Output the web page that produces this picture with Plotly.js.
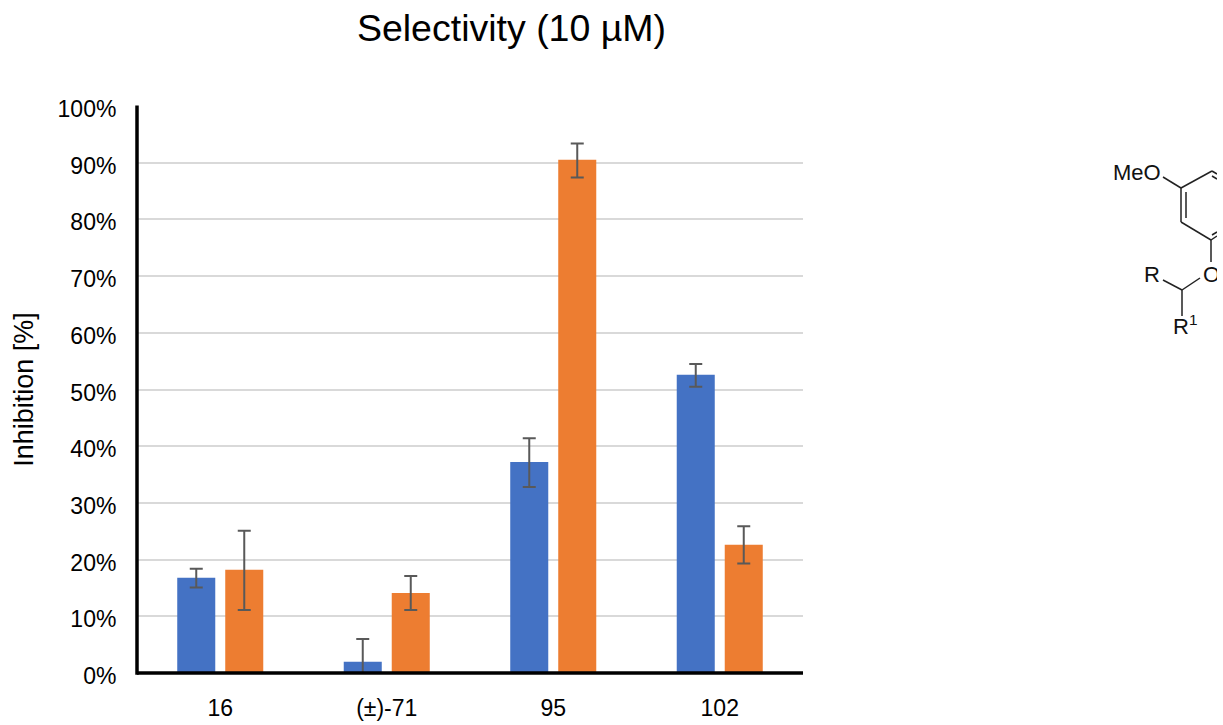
<!DOCTYPE html>
<html><head><meta charset="utf-8">
<script src="https://cdn.plot.ly/plotly-3.0.1.min.js"></script>
<style>html,body{margin:0;padding:0;background:#fff;overflow:hidden}
#edge{position:absolute;left:1217px;top:0;width:6px;height:725px;background:#fff}</style>
</head><body><div id="chart" style="width:1223px;height:725px"></div><div id="edge"></div>
<script>
const categories = ['16', '(±)-71', '95', '102'];
const blueValues = [16.8, 2.0, 37.2, 52.6];
const blueUp = [1.6, 4.0, 4.2, 1.9];
const blueDown = [1.7, 2.0, 4.4, 2.1];
const orangeValues = [18.2, 14.1, 90.5, 22.6];
const orangeUp = [6.9, 3.0, 2.9, 3.3];
const orangeDown = [7.1, 3.0, 3.1, 3.3];
const W = 1223, H = 725;
const L = 137, R = 803, T = 106, B = 673;
const FONT = '"Liberation Sans", Arial, sans-serif';
const px = x => (x - L) / (R - L), py = y => (B - y) / (B - T);

// decorative structure fragment (pixel positions on the page)
const bonds = [
  [1163,177,1181,188],[1181,188,1181,222],[1186,192,1186,218],
  [1181,222,1211,240],[1181,188,1212,171],[1212,171,1217,174],
  [1212,176,1217,179],[1211,240,1217,236],[1212,235,1217,232],
  [1211,240,1211,262],[1200,278,1182,290],[1163,280,1182,290],
  [1182,290,1182,316]
];
const shapes = bonds.map(b => ({type:'line', xref:'paper', yref:'paper',
  x0:px(b[0]), y0:py(b[1]), x1:px(b[2]), y1:py(b[3]), line:{color:'#222', width:1.5}}));
// axis lines centred on the plot edges
shapes.push({type:'line', xref:'paper', yref:'paper', x0:0, x1:0, y0:-0.003, y1:1.001, line:{color:'#000', width:3.5}});
shapes.push({type:'line', xref:'paper', yref:'paper', x0:0, x1:1, y0:0, y1:0, line:{color:'#000', width:3.5}});

const label = (t, x, y) => ({text:t, xref:'paper', yref:'paper', x:px(x), y:py(y),
  xanchor:'center', yanchor:'middle', showarrow:false, font:{family:FONT, size:22, color:'#111'}});
const annotations = [
  label('MeO', 1137, 172), label('R', 1152, 274), label('O', 1211, 274),
  label('R<sup>1</sup>', 1185, 325)
];

const err = (up, down) => ({type:'data', symmetric:false, array:up, arrayminus:down,
  color:'#595959', thickness:2, width:6.5});
const data = [
  {type:'bar', name:'A', x:categories, y:blueValues, marker:{color:'#4472c4'}, error_y:err(blueUp, blueDown)},
  {type:'bar', name:'B', x:categories, y:orangeValues, marker:{color:'#ed7d31'}, error_y:err(orangeUp, orangeDown)}
];
const layout = {
  width:W, height:H, showlegend:false, paper_bgcolor:'#fff', plot_bgcolor:'#fff',
  margin:{l:L, r:W-R, t:T, b:H-B},
  barmode:'group', bargap:0.4234, bargroupgap:0.208,
  title:{text:'Selectivity (10 µM)', font:{family:FONT, size:37.5, color:'#000'},
    x:511.5/W, xanchor:'center', y:1-28/H, yanchor:'middle'},
  font:{family:FONT, color:'#000'},
  xaxis:{type:'category', tickfont:{family:FONT, size:23, color:'#000'},
    ticks:'outside', ticklen:14, tickcolor:'rgba(0,0,0,0)', showgrid:false,
    showline:false, zeroline:false},
  yaxis:{range:[0,100], tickmode:'linear', tick0:0, dtick:10, ticksuffix:'%',
    tickfont:{family:FONT, size:23, color:'#000'}, ticklabelshift:3,
    ticks:'outside', ticklen:15, tickcolor:'rgba(0,0,0,0)',
    showgrid:true, gridcolor:'#d9d9d9', gridwidth:2, zeroline:false,
    showline:false, automargin:true,
    title:{text:'Inhibition [%]', standoff:16, font:{family:FONT, size:27, color:'#000'}}},
  shapes, annotations
};
Plotly.newPlot('chart', data, layout, {displayModeBar:false, staticPlot:true});
</script></body></html>
